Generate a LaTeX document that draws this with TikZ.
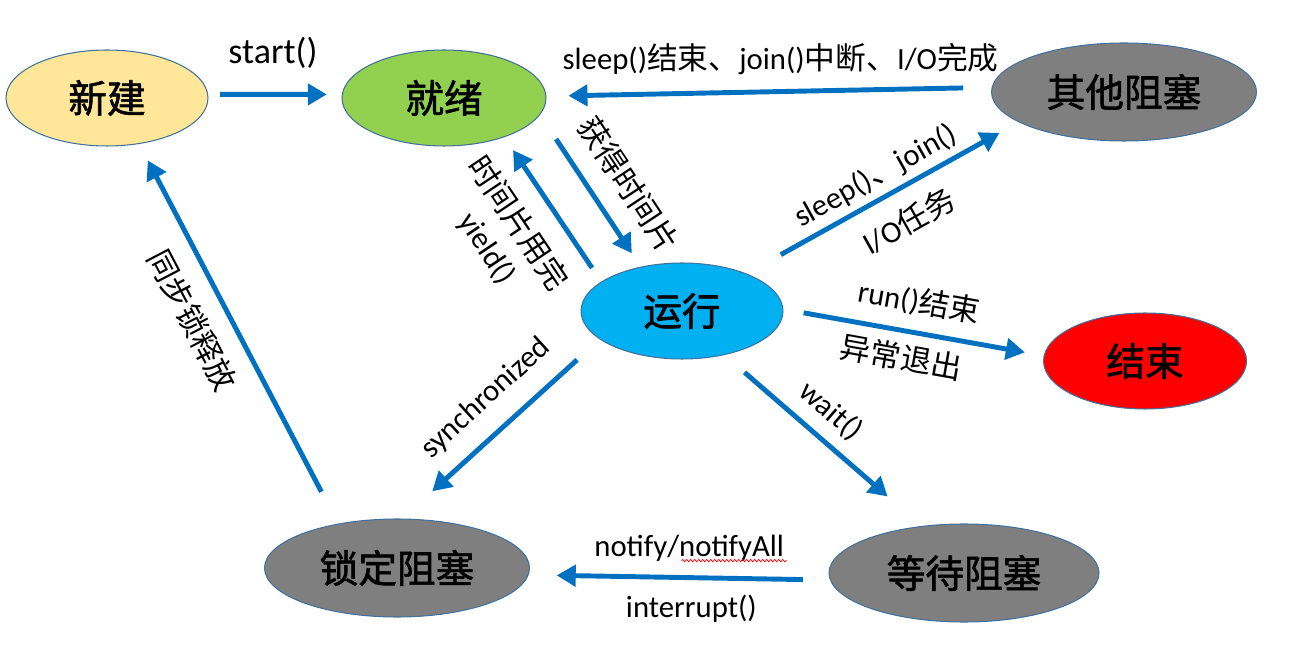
\documentclass[tikz,border=0pt]{standalone}
\usepackage{fontspec}
\setmainfont{Carlito}
\newfontfamily\zhfont{Noto Sans CJK SC}
\newfontfamily\zhheavy[FakeBold=1.6]{Noto Sans CJK SC}
\newcommand{\zh}[1]{{\zhfont#1}}
\usetikzlibrary{arrows.meta}
\usetikzlibrary{calc}
\usetikzlibrary{shapes.geometric}
\usetikzlibrary{decorations.pathmorphing}

\definecolor{flowblue}{HTML}{0070C0}
\definecolor{rimblue}{HTML}{41719C}
\definecolor{newyellow}{HTML}{FFE699}
\definecolor{readygreen}{HTML}{92D050}
\definecolor{runcyan}{HTML}{00B0F0}
\definecolor{endred}{HTML}{FF0000}
\definecolor{blockgray}{HTML}{7F7F7F}

\begin{document}
\begin{tikzpicture}[x=0.02cm,y=-0.02cm,
    phase/.style={ellipse, draw=rimblue, line width=0.6pt, inner sep=0pt,
      font=\fontsize{22}{26}\selectfont\zhheavy},
    flow/.style={flowblue, line width=2.8pt, -{Triangle[length=0.38cm,width=0.42cm]}},
    lbl/.style={font=\fontsize{17.5}{21}\selectfont, text=black, text height=14pt,
      text depth=2pt, inner xsep=0pt, inner ysep=#1}]
  \useasboundingbox (0,0) rectangle (1293,661);

  \node[phase, fill=newyellow, minimum width=4.04cm, minimum height=1.92cm] (New) at (107,98) {新建};
  \node[phase, fill=readygreen, minimum width=4.08cm, minimum height=1.92cm] (Ready) at (444,98) {就绪};
  \node[phase, fill=blockgray, minimum width=5.3cm, minimum height=1.96cm] (Other) at (1124,92) {其他阻塞};
  \node[phase, fill=runcyan, minimum width=4.04cm, minimum height=1.92cm] (Run) at (682,311) {运行};
  \node[phase, fill=endred, minimum width=4.06cm, minimum height=1.92cm] (End) at (1145,361) {结束};
  \node[phase, fill=blockgray, minimum width=5.3cm, minimum height=1.96cm] (Lock) at (397,568) {锁定阻塞};
  \node[phase, fill=blockgray, minimum width=5.4cm, minimum height=1.96cm] (Wait) at (964,573) {等待阻塞};

  \draw[flow, shorten <=0.24cm, shorten >=0.3cm] (New.2) to node[lbl=14pt, above, pos=0.485, font=\fontsize{20.5}{24}\selectfont] (startlbl) {start()} (Ready.178);
  \draw[flow, shorten <=0.57cm, shorten >=0.44cm] (Other.178) to node[lbl=9pt, above, pos=0.474] (wakelbl) {sleep()\zh{结束、}join()\zh{中断、}I/O\zh{完成}} (Ready.1);
  \draw[flow, shorten <=0.58cm, shorten >=0.32cm] (Ready.-10.6) to node[lbl=10pt, above, sloped, pos=0.587] (gainlbl) {\zh{获得时间片}} (Run.133);
  \draw[flow, shorten <=0.33cm, shorten >=0.31cm] (Run.160) to node[lbl=11.4pt, below, sloped, pos=0.546] (uselbl) {\zh{时间片用完}} node[lbl=33.4pt, below, sloped, pos=0.525] (yieldlbl) {yield()} (Ready.-33.4);
  \draw[flow, shorten <=0.78cm, shorten >=0.44cm] (Run.30) to node[lbl=4.3pt, above, sloped, pos=0.514] (sleeplbl) {sleep()\zh{、}join()} node[lbl=9.9pt, below, sloped, pos=0.537] (iolbl) {I/O\zh{任务}} (Other.196);
  \draw[flow, shorten <=0.41cm, shorten >=0.38cm] (Run.1) to node[lbl=8.3pt, above, sloped, pos=0.5] (donelbl) {run()\zh{结束}} node[lbl=6.4pt, below, sloped, pos=0.47] (abortlbl) {\zh{异常退出}} (End.177);
  \draw[flow, shorten <=0.61cm, shorten >=0.81cm] (Run.199) to node[lbl=10.6pt, above, sloped, pos=0.464] (synclbl) {synchronized} (Lock.84);
  \draw[flow, shorten <=0.53cm, shorten >=0.9cm] (Run.-46) to node[lbl=6.8pt, above, sloped, pos=0.449] (waitlbl) {wait()} (Wait.132);
  \draw[flow, shorten <=0.54cm, shorten >=0.56cm] (Wait.183) to node[lbl=8.8pt, above, pos=0.467] (notifylbl) {notify/notifyAll} node[lbl=7.5pt, below, pos=0.46] (intlbl) {interrupt()} (Lock.-3.5);
  \draw[flow, shorten <=0.72cm, shorten >=0.37cm] (Lock.143) to node[lbl=10.9pt, below, sloped, pos=0.578] (releaselbl) {\zh{同步锁释放}} (New.-55);

  % spell-check squiggle under notifyAll
  \draw[endred, line width=0.4pt, decorate, decoration={snake, amplitude=0.25mm, segment length=0.8mm}]
    ($(notifylbl.base west)!0.46!(notifylbl.base east)+(0pt,-2.5pt)$) -- ($(notifylbl.base east)+(0pt,-2.5pt)$);
\end{tikzpicture}
\end{document}
